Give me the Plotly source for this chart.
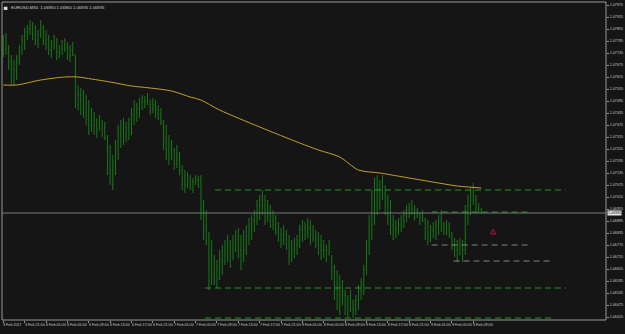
import plotly.graph_objects as go

# ---- data (EURUSD, M30) ----
high = [1.07825,1.07835,1.07775,1.07725,1.07700,1.07725,1.07775,1.07825,1.07860,1.07875,
        1.07900,1.07890,1.07875,1.07850,1.07900,1.07875,1.07850,1.07825,1.07800,1.07825,
        1.07810,1.07775,1.07800,1.07810,1.07790,1.07775,1.07790,1.07725,1.07575,1.07560,
        1.07550,1.07525,1.07500,1.07460,1.07440,1.07410,1.07425,1.07400,1.07390,1.07325,
        1.07275,1.07225,1.07300,1.07375,1.07400,1.07410,1.07390,1.07410,1.07460,1.07500,
        1.07485,1.07510,1.07525,1.07520,1.07535,1.07500,1.07510,1.07500,1.07475,1.07460,
        1.07400,1.07375,1.07325,1.07300,1.07260,1.07275,1.07240,1.07175,1.07150,1.07140,
        1.07125,1.07110,1.07125,1.07120,1.07125,1.07000,1.06950,1.06840,1.06800,1.06725,
        1.06700,1.06750,1.06775,1.06800,1.06825,1.06800,1.06825,1.06850,1.06860,1.06825,
        1.06850,1.06875,1.06910,1.06925,1.06950,1.07000,1.07025,1.07050,1.07025,1.07000,
        1.06975,1.06950,1.06925,1.06890,1.06860,1.06875,1.06850,1.06825,1.06800,1.06810,
        1.06825,1.06875,1.06900,1.06890,1.06910,1.06900,1.06875,1.06850,1.06840,1.06825,
        1.06800,1.06775,1.06800,1.06725,1.06675,1.06650,1.06625,1.06600,1.06550,1.06525,
        1.06550,1.06500,1.06525,1.06575,1.06610,1.06675,1.06800,1.06925,1.07050,1.07110,
        1.07125,1.07100,1.07125,1.07075,1.07025,1.07000,1.06925,1.06900,1.06910,1.06925,
        1.06950,1.06975,1.06985,1.07000,1.06975,1.06960,1.06940,1.06950,1.06910,1.06900,
        1.06875,1.06890,1.06900,1.06925,1.06950,1.06890,1.06900,1.06890,1.06840,1.06810,
        1.06800,1.06810,1.06800,1.06975,1.07025,1.07060,1.07085,1.07025,1.06985,1.06960]
low = [1.07715,1.07725,1.07650,1.07575,1.07575,1.07600,1.07675,1.07725,1.07750,1.07800,
       1.07825,1.07800,1.07775,1.07760,1.07810,1.07775,1.07750,1.07725,1.07710,1.07750,
       1.07700,1.07710,1.07725,1.07740,1.07700,1.07690,1.07720,1.07460,1.07450,1.07425,
       1.07410,1.07375,1.07325,1.07340,1.07325,1.07310,1.07350,1.07315,1.07300,1.07125,
       1.07075,1.07050,1.07125,1.07200,1.07260,1.07275,1.07290,1.07300,1.07325,1.07375,
       1.07390,1.07410,1.07450,1.07460,1.07475,1.07425,1.07435,1.07410,1.07400,1.07375,
       1.07250,1.07200,1.07175,1.07200,1.07150,1.07160,1.07125,1.07050,1.07035,1.07060,
       1.07050,1.07035,1.07075,1.07060,1.06900,1.06800,1.06775,1.06550,1.06575,1.06575,
       1.06560,1.06600,1.06625,1.06675,1.06690,1.06660,1.06700,1.06740,1.06710,1.06650,
       1.06690,1.06725,1.06775,1.06800,1.06840,1.06875,1.06900,1.06925,1.06875,1.06890,
       1.06860,1.06850,1.06825,1.06790,1.06760,1.06775,1.06750,1.06675,1.06690,1.06710,
       1.06725,1.06760,1.06790,1.06800,1.06810,1.06775,1.06790,1.06760,1.06725,1.06700,
       1.06710,1.06690,1.06725,1.06600,1.06500,1.06450,1.06425,1.06475,1.06425,1.06415,
       1.06440,1.06410,1.06425,1.06450,1.06500,1.06525,1.06625,1.06725,1.06800,1.06875,
       1.06925,1.06950,1.07000,1.06925,1.06875,1.06825,1.06800,1.06810,1.06825,1.06840,
       1.06860,1.06890,1.06910,1.06925,1.06900,1.06910,1.06875,1.06890,1.06800,1.06775,
       1.06790,1.06810,1.06800,1.06825,1.06840,1.06825,1.06825,1.06810,1.06750,1.06715,
       1.06690,1.06725,1.06690,1.06725,1.06875,1.06925,1.06975,1.06940,1.06935,1.06935]
close = [1.07750,1.07760,1.07690,1.07625,1.07650,1.07700,1.07750,1.07800,1.07840,1.07850,
         1.07860,1.07825,1.07800,1.07825,1.07860,1.07800,1.07775,1.07750,1.07775,1.07790,
         1.07740,1.07750,1.07775,1.07760,1.07725,1.07750,1.07725,1.07525,1.07525,1.07500,
         1.07450,1.07425,1.07400,1.07375,1.07400,1.07350,1.07390,1.07360,1.07310,1.07175,
         1.07150,1.07175,1.07250,1.07325,1.07350,1.07325,1.07360,1.07375,1.07425,1.07450,
         1.07460,1.07490,1.07500,1.07490,1.07500,1.07460,1.07475,1.07450,1.07425,1.07390,
         1.07300,1.07250,1.07225,1.07250,1.07200,1.07225,1.07150,1.07110,1.07075,1.07100,
         1.07090,1.07090,1.07100,1.07100,1.06950,1.06850,1.06800,1.06650,1.06625,1.06650,
         1.06675,1.06700,1.06725,1.06750,1.06775,1.06750,1.06775,1.06800,1.06750,1.06725,
         1.06800,1.06825,1.06875,1.06900,1.06925,1.06975,1.07000,1.06975,1.06950,1.06925,
         1.06900,1.06875,1.06850,1.06825,1.06800,1.06825,1.06775,1.06725,1.06750,1.06775,
         1.06800,1.06850,1.06860,1.06875,1.06860,1.06825,1.06810,1.06800,1.06775,1.06750,
         1.06750,1.06725,1.06740,1.06625,1.06550,1.06525,1.06500,1.06525,1.06475,1.06450,
         1.06500,1.06450,1.06500,1.06550,1.06575,1.06650,1.06775,1.06900,1.07025,1.07050,
         1.07075,1.07050,1.07025,1.06975,1.06925,1.06875,1.06850,1.06860,1.06875,1.06900,
         1.06925,1.06950,1.06960,1.06950,1.06940,1.06925,1.06910,1.06900,1.06840,1.06810,
         1.06850,1.06860,1.06875,1.06900,1.06875,1.06860,1.06850,1.06825,1.06775,1.06750,
         1.06725,1.06775,1.06750,1.06940,1.06975,1.07025,1.07000,1.06960,1.06950,1.06935]
first_open = 1.07760

# moving average readings (bar index, value)
ma_bar = [0, 5, 14, 23, 28, 33, 40, 48, 55, 63, 70, 74, 81, 96, 111, 118, 126, 133, 141, 152, 163, 170, 179]
ma_val = [1.07575, 1.07575, 1.07600, 1.07615, 1.07615, 1.07605, 1.07590, 1.07570, 1.07560, 1.07545,
          1.07515, 1.07500, 1.07450, 1.07365, 1.07285, 1.07250, 1.07215, 1.07150, 1.07135, 1.07110,
          1.07085, 1.07070, 1.07060]

# horizontal levels (price, from bar, to bar)
lvl_price = [1.07050, 1.06940, 1.06775, 1.06695, 1.06560, 1.06410]
lvl_from = [79.3, 160.4, 160.4, 168.6, 75.5, 75.5]
lvl_to = [210.6, 197.6, 197.6, 205.8, 210.6, 205.8]
lvl_kind = ["green", "green", "grey", "grey", "green", "green"]

current_price = 1.06935
signal_bar, signal_price = 183.4, 1.06855

time_labels = ["3 Feb 2017", "3 Feb 21:00", "6 Feb 01:00", "6 Feb 05:00", "6 Feb 09:00", "6 Feb 13:00",
               "6 Feb 17:00", "6 Feb 21:00", "7 Feb 01:00", "7 Feb 05:00", "7 Feb 09:00", "7 Feb 13:00",
               "7 Feb 17:00", "7 Feb 21:00", "8 Feb 01:00", "8 Feb 05:00", "8 Feb 09:00", "8 Feb 13:00",
               "8 Feb 17:00", "8 Feb 21:00", "9 Feb 01:00", "9 Feb 05:00", "9 Feb 09:00"]
label_step = 8
price_ticks = [round(1.07975 - 0.0006 * k, 5) for k in range(27)]

# ---- figure ----
n = len(high)
xs = list(range(n))
opens = [first_open] + close[:-1]
BG = "#151515"
FONT = "Liberation Sans Narrow, Liberation Sans, Arial"
LBL = 3.7

fig = go.Figure()
fig.add_trace(go.Ohlc(x=xs, open=opens, high=high, low=low, close=close,
                      increasing=dict(line=dict(color="#177a17", width=1)),
                      decreasing=dict(line=dict(color="#177a17", width=1)),
                      tickwidth=0.25, hoverinfo="skip", showlegend=False))
fig.add_trace(go.Scatter(x=ma_bar, y=ma_val, mode="lines",
                         line=dict(color="#c4a02a", width=1, shape="spline", smoothing=0.8),
                         hoverinfo="skip", showlegend=False))
for p, a, b, k in zip(lvl_price, lvl_from, lvl_to, lvl_kind):
    col = "#229a22" if k == "green" else "#7d8a7d"
    fig.add_trace(go.Scatter(x=[a, b], y=[p, p], mode="lines",
                             line=dict(color=col, width=1, dash="6px,4px"),
                             hoverinfo="skip", showlegend=False))
fig.add_shape(type="line", xref="paper", x0=0, x1=1, yref="y", y0=current_price, y1=current_price,
              line=dict(color="#7a7a7a", width=1))
fig.add_trace(go.Scatter(x=[signal_bar], y=[signal_price], mode="markers",
                         marker=dict(symbol="arrow-up-open", size=5, color="#c0103a",
                                     line=dict(color="#c0103a", width=1)),
                         hoverinfo="skip", showlegend=False))

# frame
fig.add_shape(type="rect", xref="paper", yref="paper", x0=0, x1=1, y0=0, y1=1,
              line=dict(color="#9a9a9a", width=1))

# time labels (left aligned on their ticks)
for k, t in enumerate(time_labels):
    fig.add_annotation(x=k * label_step, y=0, xref="x", yref="paper", text=t, showarrow=False,
                       xanchor="left", yanchor="top", xshift=-1, yshift=-2, borderpad=0,
                       font=dict(size=LBL, color="#c8c8c8", family=FONT))

# current price box
fig.add_annotation(x=1, y=current_price, xref="paper", yref="y", text=f"{current_price:.5f}",
                   showarrow=False, xanchor="left", yanchor="middle", xshift=1,
                   bgcolor="#e6e6e6", borderpad=0, font=dict(size=LBL, color="#111", family=FONT))
# header
fig.add_annotation(x=0, y=1, xref="paper", yref="paper",
                   text=f"EURUSD,M30  {opens[-1]:.5f} {high[-1]:.5f} {low[-1]:.5f} {close[-1]:.5f}",
                   showarrow=False, xanchor="left", yanchor="top", xshift=7, yshift=-1,
                   font=dict(size=4.2, color="#d0d0d0", family=FONT))
fig.add_shape(type="rect", xref="paper", yref="paper", x0=0.003, x1=0.009, y0=0.975, y1=0.985,
              fillcolor="#dddddd", line=dict(width=0))

fig.update_layout(
    width=625, height=334, margin=dict(l=2, r=15, t=2, b=14),
    paper_bgcolor=BG, plot_bgcolor=BG,
    xaxis=dict(range=[-0.5, 225.7], showgrid=False, zeroline=False, rangeslider=dict(visible=False),
               tickvals=[k * label_step for k in range(len(time_labels))], ticktext=[""] * len(time_labels),
               ticks="outside", ticklen=2, tickcolor="#9a9a9a", showline=False),
    yaxis=dict(range=[1.0640, 1.0799], side="right", showgrid=False, zeroline=False,
               tickvals=price_ticks, ticktext=[f"{v:.5f}" for v in price_ticks],
               ticks="outside", ticklen=2, tickcolor="#9a9a9a",
               tickfont=dict(size=LBL, color="#c8c8c8", family=FONT), showline=False),
)

fig.write_html("out.html")
